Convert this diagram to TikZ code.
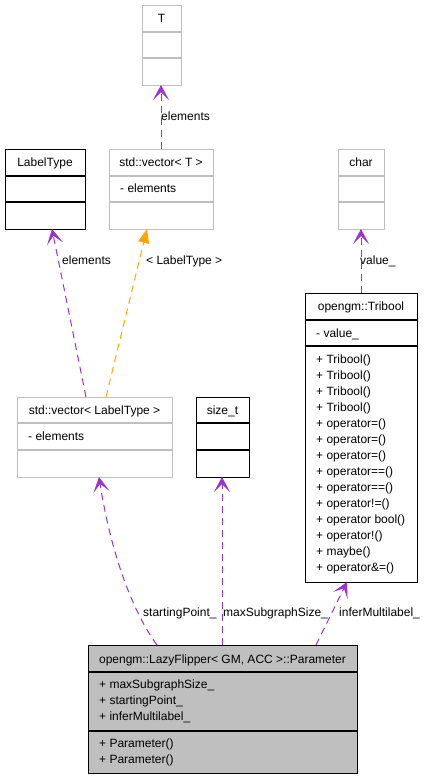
\documentclass[tikz,border=0pt]{standalone}
\usepackage{fontspec}
\setmainfont{Liberation Sans}
\usetikzlibrary{arrows.meta}
\definecolor{gborder}{HTML}{BFBFBF}
\definecolor{purp}{HTML}{9A32CD}
\definecolor{orng}{HTML}{FFA500}
\definecolor{pfill}{HTML}{BFBFBF}
\begin{document}
\begin{tikzpicture}[x=1pt,y=-1pt,
  every node/.style={font=\fontsize{12}{16}\selectfont, inner sep=0pt},
  boxg/.style={draw=gborder, line width=1.2pt, anchor=north west, inner sep=0pt},
  boxb/.style={draw=black, line width=1.2pt, anchor=north west, inner sep=0pt},
  txt/.style={anchor=base west},
  ctxt/.style={anchor=base},
  rel/.style={draw=purp, line width=1pt, dash pattern=on 7pt off 5pt, -{Stealth[length=15pt,width=16pt,inset=8pt]}},
  tmpl/.style={draw=orng, line width=1pt, dash pattern=on 7pt off 5pt, -{Triangle[length=14pt,width=11pt]}},
  lbl/.style={anchor=base west}]
\useasboundingbox (0,0) rectangle (428,779);

% T
\node[boxg, minimum width=39pt, minimum height=80pt] (T) at (142,5) {};
\draw[gborder, line width=1.2pt] (142,32) -- (181,32) (142,58) -- (181,58);
\node[ctxt] (Tt) at (161.5,22) {T};

% LabelType
\node[boxb, minimum width=80pt, minimum height=80pt] (LT) at (5,149) {};
\draw[black, line width=1.2pt] (5,176) -- (85,176) (5,202) -- (85,202);
\node[ctxt] (LTt) at (45,166) {LabelType};

% std::vector<T>
\node[boxg, minimum width=104pt, minimum height=80pt] (VT) at (109,149) {};
\draw[gborder, line width=1.2pt] (109,176) -- (213,176) (109,202) -- (213,202);
\node[ctxt] (VTt) at (161,166) {std::vector< T >};
\node[txt] (VTa) at (120,192) {- elements};

% char
\node[boxg, minimum width=46pt, minimum height=80pt] (C) at (338,149) {};
\draw[gborder, line width=1.2pt] (338,176) -- (384,176) (338,202) -- (384,202);
\node[ctxt] (Ct) at (361,166) {char};

% Tribool
\node[boxb, minimum width=112pt, minimum height=289pt] (TB) at (305,293) {};
\draw[black, line width=1.2pt] (305,320) -- (417,320) (305,346) -- (417,346);
\node[ctxt] (TBt) at (361,310) {opengm::Tribool};
\node[txt] (TBa) at (316,337) {- value\_};
\foreach \t [count=\i from 0] in {Tribool(),Tribool(),Tribool(),Tribool(),operator=(),operator=(),operator=(),operator==(),operator==(),operator!=(),operator bool(),operator!(),maybe(),operator\&=()}
  \node[txt] (TBm\i) at (316,363+16*\i) {+ \t};

% std::vector<LabelType>
\node[boxg, minimum width=155pt, minimum height=80pt] (VL) at (17,397) {};
\draw[gborder, line width=1.2pt] (17,423) -- (172,423) (17,450) -- (172,450);
\node[ctxt] (VLt) at (94.5,414) {std::vector< LabelType >};
\node[txt] (VLa) at (28,440) {- elements};

% size_t
\node[boxb, minimum width=53pt, minimum height=80pt] (S) at (196,397) {};
\draw[black, line width=1.2pt] (196,423) -- (249,423) (196,450) -- (249,450);
\node[ctxt] (St) at (222.5,414) {size\_t};

% Parameter
\node[boxb, fill=pfill, minimum width=269pt, minimum height=128pt] (P) at (88,645) {};
\draw[black, line width=1.2pt] (88,672) -- (357,672) (88,731) -- (357,731);
\node[ctxt] (Pt) at (222.5,663) {opengm::LazyFlipper< GM, ACC >::Parameter};
\node[txt] (Pa1) at (99,688) {+ maxSubgraphSize\_};
\node[txt] (Pa2) at (99,704) {+ startingPoint\_};
\node[txt] (Pa3) at (99,720) {+ inferMultilabel\_};
\node[txt] (Pm1) at (99,747) {+ Parameter()};
\node[txt] (Pm2) at (99,763) {+ Parameter()};

% connectors
\coordinate (a1) at (161,149); \coordinate (b1) at (161,85);
\draw[rel] (a1) -- (b1);
\node[lbl] (l1) at (161,120) {elements};

\coordinate (a2) at (86,397); \coordinate (b2) at (52,229);
\draw[rel] (a2) -- (b2);
\node[lbl] (l2) at (62,264) {elements};

\coordinate (a3) at (106,397); \coordinate (b3) at (147,229);
\draw[tmpl] (a3) -- (b3);
\node[lbl] (l3) at (146,264) {< LabelType >};

\coordinate (a4) at (361,293); \coordinate (b4) at (361,229);
\draw[rel] (a4) -- (b4);
\node[lbl] (l4) at (360,264) {value\_};

\coordinate (a5) at (157,645); \coordinate (b5) at (99,477);
\draw[rel] (a5) .. controls (135,615) and (112,560) .. (b5);
\node[lbl] (l5) at (143,616) {startingPoint\_};

\coordinate (a6) at (222,645); \coordinate (b6) at (222,477);
\draw[rel] (a6) -- (b6);
\node[lbl] (l6) at (223,616) {maxSubgraphSize\_};

\coordinate (a7) at (316,645); \coordinate (b7) at (347,582);
\draw[rel] (a7) -- (b7);
\node[lbl] (l7) at (339,616) {inferMultilabel\_};
\end{tikzpicture}
\end{document}
